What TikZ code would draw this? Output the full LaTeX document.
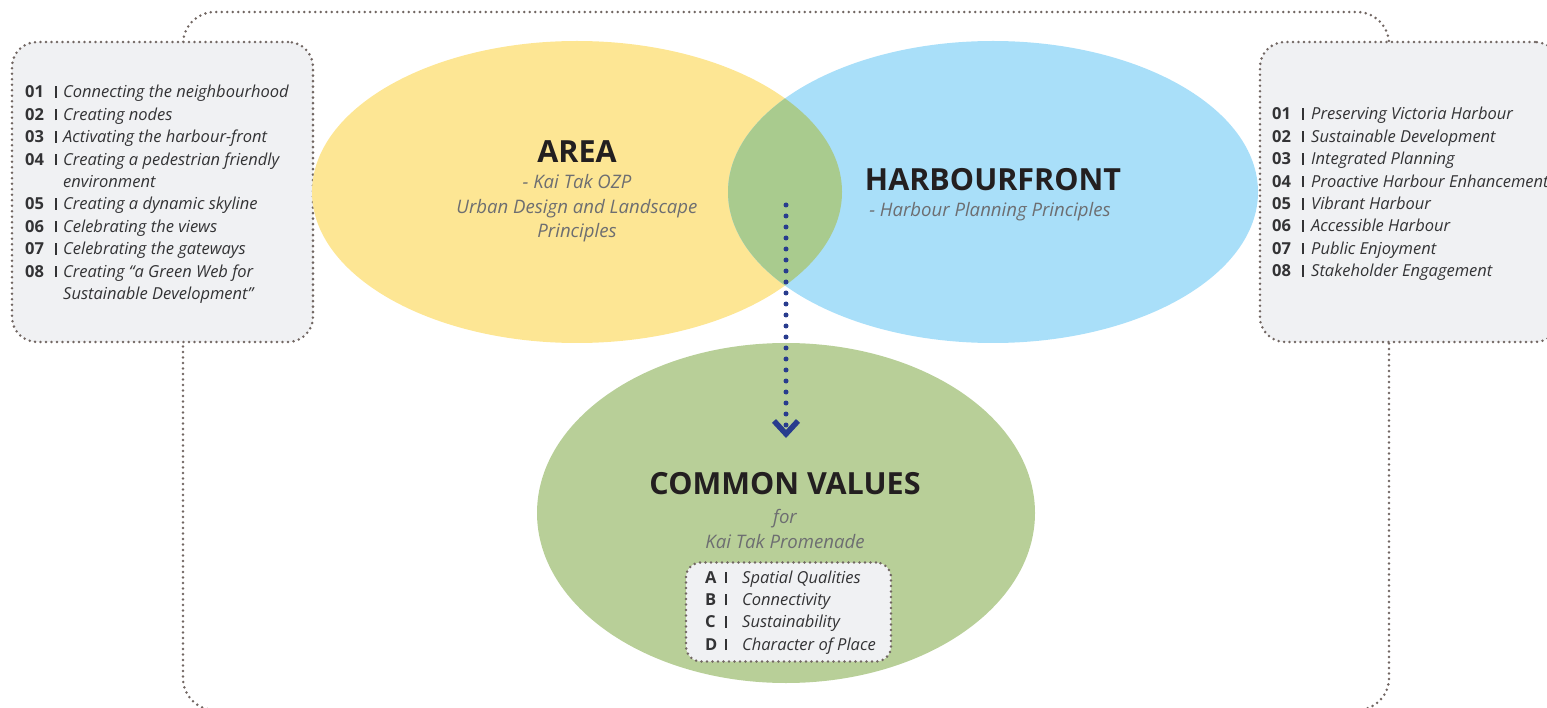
\documentclass[tikz,border=0pt]{standalone}
\usepackage{fontspec}
\setmainfont{Open Sans}
\usetikzlibrary{shapes.geometric,arrows.meta}

\definecolor{areayellow}{HTML}{FDE694}
\definecolor{harbourblue}{HTML}{A9DFF9}
\definecolor{lensgreen}{HTML}{A9CB8E}
\definecolor{valuesgreen}{HTML}{B8CF98}
\definecolor{boxgrey}{HTML}{F0F1F3}
\definecolor{dotgrey}{HTML}{716662}
\definecolor{arrowblue}{HTML}{283C8E}
\definecolor{titleink}{HTML}{231F20}
\definecolor{subink}{HTML}{6D6E71}
\definecolor{listink}{HTML}{333335}

\newcommand\listbar{\rule{1.5pt}{11.5pt}}

\tikzset{
  dotline/.style={draw=dotgrey, line width=2.8pt, line cap=round, dash pattern=on 0pt off 5.5pt},
  listbox/.style={dotline, fill=boxgrey, rounded corners=25pt},
  bubble/.style={ellipse, inner sep=0pt},
  title/.style={font=\fontsize{30.5}{32}\selectfont\bfseries, text=titleink, anchor=base},
  subtitle/.style={font=\fontsize{18.6}{24.5}\selectfont\itshape, text=subink, align=center, anchor=base},
  listtext/.style={font=\fontsize{16.5}{22.4}\selectfont, text=listink, inner sep=0pt, anchor=base west},
  valuearrow/.style={arrowblue, line width=5pt, line cap=round, dash pattern=on 0pt off 11pt,
    -{Straight Barb[length=13pt,width=24pt,line width=5.5pt]}},
}

\begin{document}
\begin{tikzpicture}[x=1pt,y=-1pt]
  \useasboundingbox (0,0) rectangle (1547,708);

  % frame round both principle lists
  \draw[dotline, rounded corners=32pt] (183,12) rectangle (1389,710);

  \node[listbox, minimum width=301pt, minimum height=300pt] (urbanbox) at (162.5,192) {};
  \node[listbox, minimum width=300pt, minimum height=300pt] (harbourbox) at (1410,192) {};

  % the three bubbles
  \node[bubble, fill=areayellow, minimum width=530pt, minimum height=302pt] (area) at (577,192) {};
  \node[bubble, fill=harbourblue, minimum width=530pt, minimum height=302pt] (harbour) at (993,192) {};
  \begin{scope}
    \clip (area.center) ellipse (265 and 151);
    \fill[lensgreen] (harbour.center) ellipse (265 and 151);
  \end{scope}
  \node[bubble, fill=valuesgreen, minimum width=498pt, minimum height=340pt] (values) at (786,513) {};

  \node[title] (areatitle) at (577,163) {AREA};
  \node[subtitle] (areasub) at (577,238) {- Kai Tak OZP\\Urban Design and Landscape\\Principles};
  \node[title] (harbourtitle) at (993,191) {HARBOURFRONT};
  \node[subtitle] (harboursub) at (990,217) {- Harbour Planning Principles};
  \node[title] (valuestitle) at (785,494) {COMMON VALUES};
  \node[subtitle] (valuessub) at (785,548) {for\\Kai Tak Promenade};

  \coordinate (lens) at (786,205);
  \coordinate (arrowend) at (786,438);
  \draw[valuearrow] (lens) -- (arrowend);

  \node[listbox, rounded corners=15pt, minimum width=205pt, minimum height=99pt] (valuesbox) at (788.5,612) {};
  \node[listtext] (valueslist) at (705,583) {%
    \begin{tabular}[t]{@{}p{20pt}@{}p{17pt}@{}l@{}}
      \bfseries A & \listbar & \itshape Spatial Qualities\\
      \bfseries B & \listbar & \itshape Connectivity\\
      \bfseries C & \listbar & \itshape Sustainability\\
      \bfseries D & \listbar & \itshape Character of Place
    \end{tabular}};

  \node[listtext] (urbanlist) at (25,98) {%
    \begin{tabular}[t]{@{}p{30pt}@{}p{8pt}@{}l@{}}
      \bfseries 01 & \listbar & \itshape Connecting the neighbourhood\\
      \bfseries 02 & \listbar & \itshape Creating nodes\\
      \bfseries 03 & \listbar & \itshape Activating the harbour-front\\
      \bfseries 04 & \listbar & \itshape Creating a pedestrian friendly\\
                   &          & \itshape environment\\
      \bfseries 05 & \listbar & \itshape Creating a dynamic skyline\\
      \bfseries 06 & \listbar & \itshape Celebrating the views\\
      \bfseries 07 & \listbar & \itshape Celebrating the gateways\\
      \bfseries 08 & \listbar & \itshape Creating “a Green Web for\\
                   &          & \itshape Sustainable Development”
    \end{tabular}};

  \node[listtext] (harbourlist) at (1272,120) {%
    \begin{tabular}[t]{@{}p{30pt}@{}p{9pt}@{}l@{}}
      \bfseries 01 & \listbar & \itshape Preserving Victoria Harbour\\
      \bfseries 02 & \listbar & \itshape Sustainable Development\\
      \bfseries 03 & \listbar & \itshape Integrated Planning\\
      \bfseries 04 & \listbar & \itshape Proactive Harbour Enhancement\\
      \bfseries 05 & \listbar & \itshape Vibrant Harbour\\
      \bfseries 06 & \listbar & \itshape Accessible Harbour\\
      \bfseries 07 & \listbar & \itshape Public Enjoyment\\
      \bfseries 08 & \listbar & \itshape Stakeholder Engagement
    \end{tabular}};
\end{tikzpicture}
\end{document}
